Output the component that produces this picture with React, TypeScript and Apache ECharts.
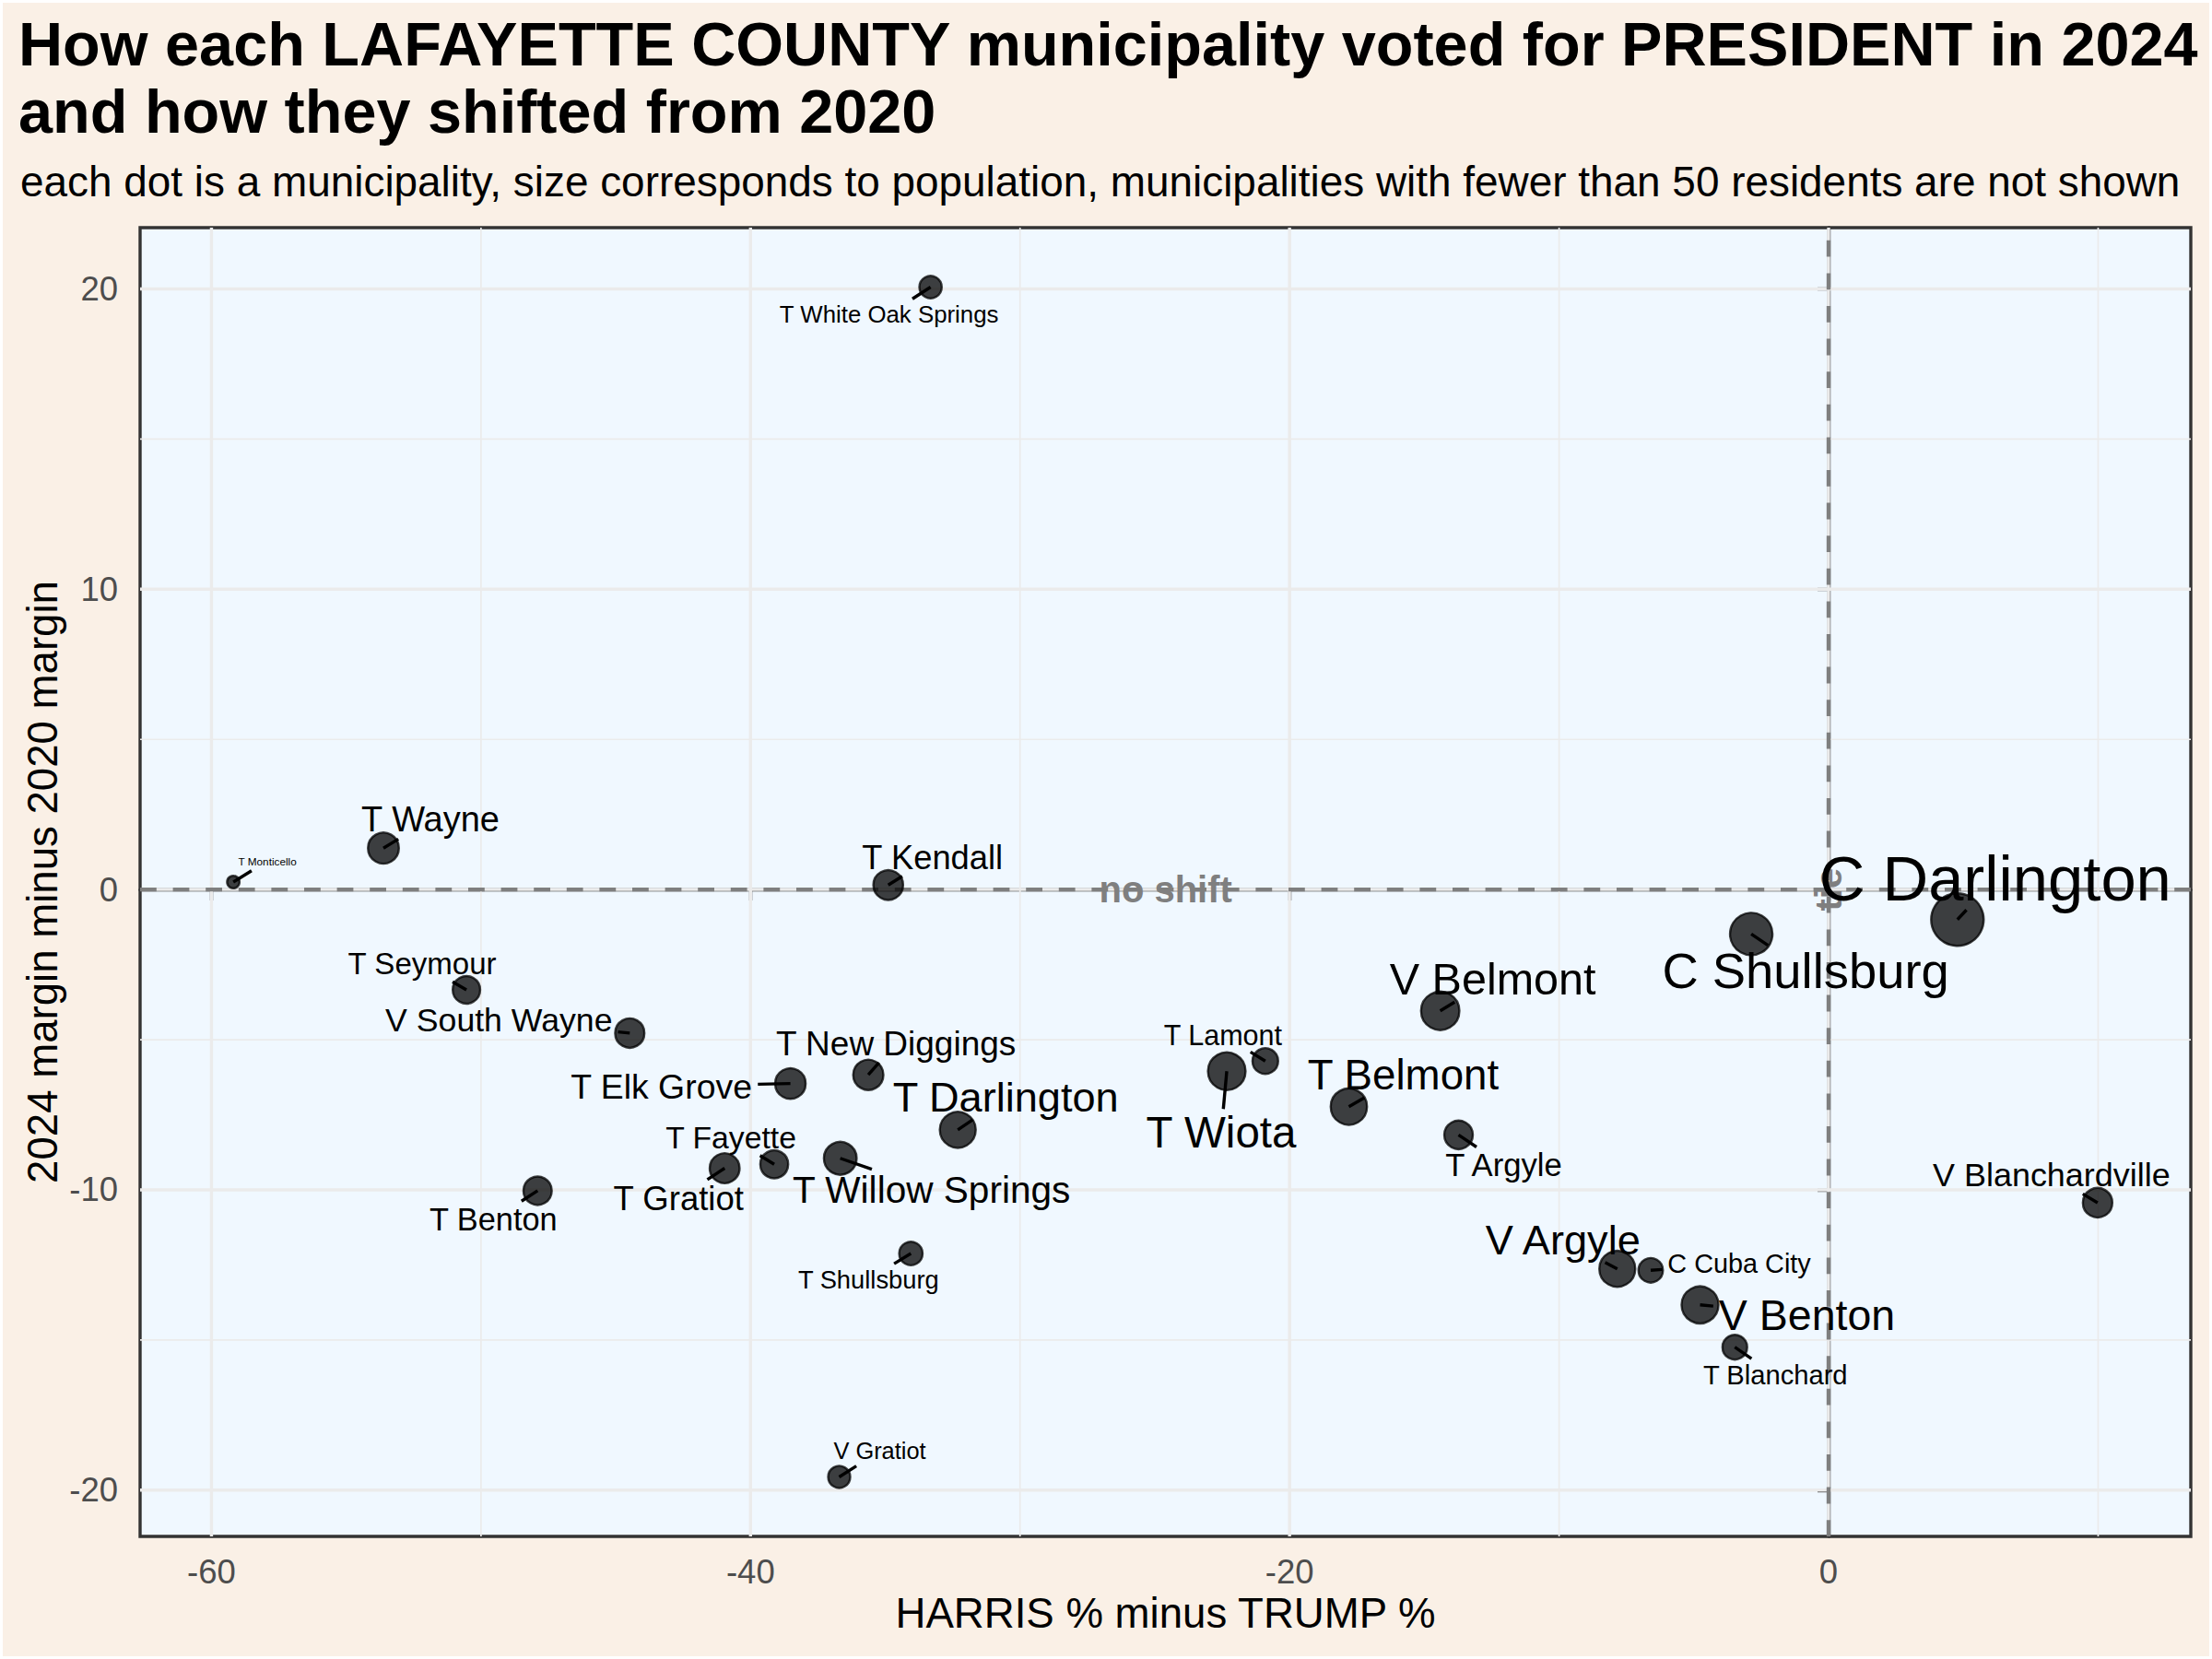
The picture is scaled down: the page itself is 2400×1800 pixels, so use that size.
import React, { useEffect, useRef } from 'react';
import * as echarts from 'echarts';

const municipalities = [
  'T White Oak Springs', 'T Monticello', 'T Wayne', 'T Kendall', 'T Seymour',
  'V South Wayne', 'T Elk Grove', 'T New Diggings', 'T Darlington', 'T Fayette',
  'T Gratiot', 'T Willow Springs', 'T Benton', 'T Shullsburg', 'V Gratiot',
  'T Lamont', 'T Wiota', 'T Belmont', 'V Belmont', 'T Argyle',
  'V Argyle', 'C Cuba City', 'V Benton', 'T Blanchard', 'V Blanchardville',
  'C Shullsburg', 'C Darlington',
];

// HARRIS % minus TRUMP % (2024)
const harrisMinusTrump = [
  -33.32, -59.19, -53.62, -34.89, -50.54,
  -44.48, -38.52, -35.63, -32.31, -39.12,
  -40.96, -36.67, -47.9, -34.05, -36.71,
  -20.9, -22.33, -17.8, -14.41, -13.73,
  -7.84, -6.6, -4.77, -3.48, 9.98,
  -2.87, 4.78,
];

// 2024 margin minus 2020 margin
const marginShift = [
  20.06, 0.25, 1.38, 0.15, -3.34,
  -4.78, -6.46, -6.17, -8.0, -9.15,
  -9.28, -8.95, -10.03, -12.12, -19.56,
  -5.71, -6.05, -7.23, -4.04, -8.17,
  -12.63, -12.68, -13.83, -15.24, -10.43,
  -1.48, -1.0,
];

const population = [
  198, 55, 552, 491, 383,
  468, 530, 515, 860, 404,
  498, 655, 423, 230, 190,
  310, 979, 885, 1033, 434,
  860, 266, 928, 274, 477,
  1368, 2400,
];

// where each repelled label sits, relative to its dot (px)
const labelOffsets: [number, number][] = [
  [-45, 29], [37, -23], [51, -31], [48, -30], [-48, -28],
  [-142, -14], [-140, 3], [30, -34], [52, -35], [-47, -29],
  [-50, 33], [99, 34], [-48, 31], [-46, 28], [44, -28],
  [-46, -28], [-6, 66], [59, -34], [57, -35], [49, 33],
  [-59, -31], [96, -7], [116, 11], [44, 30], [-50, -30],
  [59, 40], [41, -44],
];

const xTicks = [-60, -40, -20, 0];
const xMinor = [-50, -30, -10, 10];
const yTicks = [-20, -10, 0, 10, 20];
const yMinor = [-15, -5, 5, 15];

const annotationText = ['no shift', 'tie'];
const annotationX = [-24.6, 0];
const annotationY = [0, 0];
const annotationAngle = [0, 90];

const FONT = '"Liberation Sans", Arial, Helvetica, sans-serif';

const expand = (v: number[]) => {
  const lo = Math.min(...v);
  const hi = Math.max(...v);
  const pad = (hi - lo) * 0.05;
  return [lo - pad, hi + pad];
};

const xRange = expand(harrisMinusTrump);
const yRange = expand(marginShift);

const minPop = Math.min(...population);
const maxPop = Math.max(...population);
const sizeScale = (p: number) => Math.sqrt((p - minPop) / (maxPop - minPop));
const dotDiameter = (p: number) => 13.5 + 43.5 * sizeScale(p);
const labelSize = (p: number) => 11.75 + 57 * sizeScale(p);

let measureCtx: CanvasRenderingContext2D | null = null;
const textWidth = (text: string, size: number) => {
  if (!measureCtx) measureCtx = document.createElement('canvas').getContext('2d');
  if (!measureCtx) return text.length * size * 0.5;
  measureCtx.font = `${size}px ${FONT}`;
  return measureCtx.measureText(text).width;
};

const GRID_COLOR = '#EBEBEB';

const vLines = (values: number[], width: number, color: string, dash: number[] | null, z: number) => ({
  type: 'custom',
  z,
  silent: true,
  data: values.map(v => [v, 0]),
  renderItem: (_params: any, api: any) => {
    const x = api.coord([api.value(0), 0])[0];
    const bottom = api.coord([0, yRange[0]])[1];
    const top = api.coord([0, yRange[1]])[1];
    return {
      type: 'line',
      shape: { x1: x, y1: bottom, x2: x, y2: top },
      style: { stroke: color, lineWidth: width, lineDash: dash || undefined },
    };
  },
});

const hLines = (values: number[], width: number, color: string, dash: number[] | null, z: number) => ({
  type: 'custom',
  z,
  silent: true,
  data: values.map(v => [0, v]),
  renderItem: (_params: any, api: any) => {
    const y = api.coord([0, api.value(1)])[1];
    const left = api.coord([xRange[0], 0])[0];
    const right = api.coord([xRange[1], 0])[0];
    return {
      type: 'line',
      shape: { x1: left, y1: y, x2: right, y2: y },
      style: { stroke: color, lineWidth: width, lineDash: dash || undefined },
    };
  },
});

const App: React.FC = () => {
  const chartRef = useRef<HTMLDivElement>(null);

  useEffect(() => {
    document.body.style.margin = '0';
    if (!chartRef.current) return;
    const chart = echarts.init(chartRef.current, null, { renderer: 'svg' });

    const points = harrisMinusTrump.map((x, i) => [x, marginShift[i], population[i]]);

    const option = {
      animation: false,
      backgroundColor: '#FAF0E6',
      textStyle: { fontFamily: FONT },
      grid: {
        left: 152, right: 23, top: 247, bottom: 133,
        show: true,
        backgroundColor: '#F0F8FF',
        borderColor: '#333333',
        borderWidth: 3.4,
      },
      xAxis: {
        type: 'value',
        min: xRange[0],
        max: xRange[1],
        splitLine: { show: false },
        axisLine: { show: true, lineStyle: { color: '#333333', width: 3.4 } },
        axisTick: { show: true, customValues: xTicks, length: 12, lineStyle: { color: '#333333', width: 3.4 } },
        axisLabel: { customValues: xTicks, color: '#4D4D4D', fontSize: 36.5, margin: 20, fontFamily: FONT },
      },
      yAxis: {
        type: 'value',
        min: yRange[0],
        max: yRange[1],
        splitLine: { show: false },
        axisLine: { show: true, lineStyle: { color: '#333333', width: 3.4 } },
        axisTick: { show: true, customValues: yTicks, length: 12, lineStyle: { color: '#333333', width: 3.4 } },
        axisLabel: { customValues: yTicks, color: '#4D4D4D', fontSize: 36.5, margin: 24, fontFamily: FONT },
      },
      graphic: [
        {
          type: 'rect', silent: true,
          shape: { x: 0, y: 0, width: 2400, height: 1800 },
          style: { fill: 'none', stroke: '#FFFFFF', lineWidth: 6 },
        },
        {
          type: 'text',
          style: {
            text: 'How each LAFAYETTE COUNTY municipality voted for PRESIDENT in 2024',
            x: 20, y: 47.5, fontSize: 66.6, fontWeight: 'bold', fontFamily: FONT,
            fill: '#000000', verticalAlign: 'middle',
          },
        },
        {
          type: 'text',
          style: {
            text: 'and how they shifted from 2020',
            x: 20, y: 120.5, fontSize: 66.6, fontWeight: 'bold', fontFamily: FONT,
            fill: '#000000', verticalAlign: 'middle',
          },
        },
        {
          type: 'text',
          style: {
            text: 'each dot is a municipality, size corresponds to population, municipalities with fewer than 50 residents are not shown',
            x: 22, y: 197.2, fontSize: 45.9, fontFamily: FONT,
            fill: '#000000', verticalAlign: 'middle',
          },
        },
        {
          type: 'text',
          style: {
            text: 'HARRIS % minus TRUMP %',
            x: 1264.5, y: 1750, fontSize: 45.6, fontFamily: FONT,
            fill: '#000000', align: 'center', verticalAlign: 'middle',
          },
        },
        {
          type: 'text',
          x: 46, y: 957, rotation: Math.PI / 2,
          style: {
            text: '2024 margin minus 2020 margin',
            x: 0, y: 0, fontSize: 45.6, fontFamily: FONT,
            fill: '#000000', align: 'center', verticalAlign: 'middle',
          },
        },
      ],
      series: [
        vLines(xMinor, 1.7, GRID_COLOR, null, 1),
        hLines(yMinor, 1.7, GRID_COLOR, null, 1),
        vLines(xTicks, 3.4, GRID_COLOR, null, 1),
        hLines(yTicks, 3.4, GRID_COLOR, null, 1),
        hLines([0], 4.4, '#7F7F7F', [17.8, 17.8], 2),
        vLines([0], 4.4, '#7F7F7F', [17.8, 17.8], 2),
        {
          type: 'custom',
          z: 3,
          silent: true,
          data: annotationX.map((x, i) => [x, annotationY[i]]),
          renderItem: (params: any, api: any) => {
            const i = params.dataIndex;
            const [px, py] = api.coord([api.value(0), api.value(1)]);
            return {
              type: 'text',
              x: px, y: py,
              rotation: (annotationAngle[i] * Math.PI) / 180,
              style: {
                text: annotationText[i], x: 0, y: 0,
                fontSize: 40, fontWeight: 'bold', fontFamily: FONT,
                fill: '#7F7F7F', align: 'center', verticalAlign: 'middle',
              },
            };
          },
        },
        {
          type: 'custom',
          name: 'dots',
          z: 4,
          data: points,
          renderItem: (_params: any, api: any) => {
            const [cx, cy] = api.coord([api.value(0), api.value(1)]);
            const r = dotDiameter(api.value(2)) / 2;
            return {
              type: 'circle',
              shape: { cx, cy, r },
              style: { fill: 'rgba(0,0,0,0.75)', stroke: 'rgba(0,0,0,0.75)', lineWidth: 2.4 },
            };
          },
        },
        {
          type: 'custom',
          name: 'labels',
          z: 5,
          silent: true,
          data: points,
          renderItem: (params: any, api: any) => {
            const i = params.dataIndex;
            const [px, py] = api.coord([api.value(0), api.value(1)]);
            const size = labelSize(population[i]);
            const [dx, dy] = labelOffsets[i];
            const cx = px + dx;
            const cy = py + dy;
            const hw = textWidth(municipalities[i], size) / 2 + 6;
            const hh = size * 0.4 + 6;
            const t = Math.min(
              dx ? hw / Math.abs(dx) : Infinity,
              dy ? hh / Math.abs(dy) : Infinity,
            );
            const children: any[] = [];
            if (t < 1) {
              children.push({
                type: 'line',
                shape: { x1: px, y1: py, x2: cx - dx * t, y2: cy - dy * t },
                style: { stroke: '#000000', lineWidth: 3.4 },
              });
            }
            children.push({
              type: 'text',
              style: {
                text: municipalities[i], x: cx, y: cy,
                fontSize: size, fontFamily: FONT, fill: '#000000',
                align: 'center', verticalAlign: 'middle',
              },
            });
            return { type: 'group', children };
          },
        },
      ],
    };

    chart.setOption(option);

    return () => {
      chart.dispose();
    };
  }, []);

  return <div ref={chartRef} style={{ width: '2400px', height: '1800px' }} />;
};

export default App;
